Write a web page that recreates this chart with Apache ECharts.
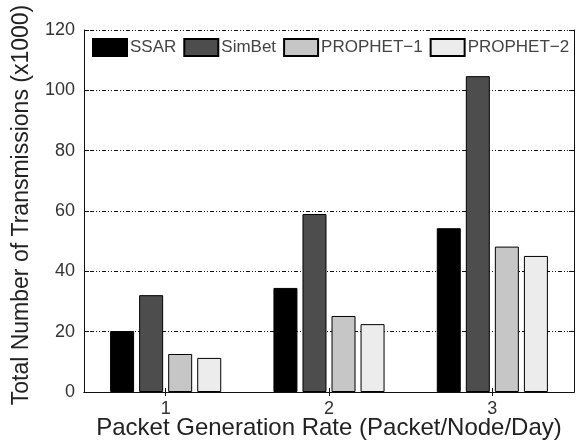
<!DOCTYPE html>
<html>
<head>
<meta charset="utf-8">
<script src="https://cdn.jsdelivr.net/npm/echarts@6/dist/echarts.min.js"></script>
<style>
  html, body { margin: 0; padding: 0; background: #fff; }
  #chart { width: 584px; height: 445px; }
</style>
</head>
<body>
<div id="chart"></div>
<script>
// Packet generation rates on the x axis
const categories = ['1', '2', '3'];

// Total transmissions (in thousands) per routing scheme
const ssar = [20.2, 34.5, 54.3];
const simbet = [32.1, 59.0, 104.7];
const prophet1 = [12.6, 25.2, 48.2];
const prophet2 = [11.3, 22.5, 45.1];

const yTicks = [0, 20, 40, 60, 80, 100, 120];

const FONT = '"Liberation Sans", Arial, Helvetica, sans-serif';
const chart = echarts.init(document.getElementById('chart'), null, { renderer: 'canvas' });

function barSeries(name, data, color) {
  return {
    name: name,
    type: 'bar',
    data: data,
    barWidth: 24,
    barGap: '21%',
    itemStyle: { color: color, borderColor: '#000', borderWidth: 1 },
    emphasis: { disabled: true },
    z: 3
  };
}

const axisLine = { show: true, lineStyle: { color: '#111', width: 1 } };
const tickStyle = { color: '#111', width: 1 };

chart.setOption({
  animation: false,
  backgroundColor: '#fff',
  grid: { left: 84, right: 10, top: 30, bottom: 53, containLabel: false, outerBoundsMode: 'none' },
  legend: {
    left: 92,
    top: 38,
    width: 500,
    padding: 0,
    itemWidth: 34,
    itemHeight: 17,
    itemGap: 7,
    icon: 'rect',
    textStyle: { fontFamily: FONT, fontSize: 17, color: '#444', padding: [0, 0, 0, -2] },
    data: ['SSAR', 'SimBet', 'PROPHET-1', 'PROPHET-2'],
    formatter: function (n) { return n.replace('-', '\u2212'); }
  },
  xAxis: [
    {
      type: 'category',
      data: categories,
      position: 'bottom',
      axisLine: axisLine,
      axisTick: { show: true, inside: true, alignWithLabel: true, length: 4, lineStyle: tickStyle },
      axisLabel: { fontFamily: FONT, fontSize: 18, color: '#333', margin: 8 },
      name: 'Packet Generation Rate (Packet/Node/Day)',
      nameLocation: 'middle',
      nameGap: 24,
      nameMoveOverlap: false,
      nameTextStyle: { fontFamily: FONT, fontSize: 24, color: '#222' }
    },
    {
      type: 'category',
      data: categories,
      position: 'top',
      axisLine: axisLine,
      axisTick: { show: true, inside: true, alignWithLabel: true, length: 4, lineStyle: tickStyle },
      axisLabel: { show: false }
    }
  ],
  yAxis: [
    {
      type: 'value',
      min: 0,
      max: 120,
      interval: 20,
      position: 'left',
      axisLine: axisLine,
      axisTick: { show: true, inside: true, length: 5, lineStyle: tickStyle },
      axisLabel: {
        fontFamily: FONT, fontSize: 18, color: '#333', margin: 9,
        formatter: function (v) { return yTicks.indexOf(v) >= 0 ? String(v) : ''; }
      },
      splitLine: { show: true, lineStyle: { color: '#111', width: 1, type: [1, 2, 1, 2, 4, 2] } },
      name: 'Total Number of Transmissions (x1000)',
      nameLocation: 'middle',
      nameGap: 51,
      nameMoveOverlap: false,
      nameTextStyle: { fontFamily: FONT, fontSize: 23, color: '#222', padding: [0, 0, 0, 12] }
    },
    {
      type: 'value',
      min: 0,
      max: 120,
      interval: 20,
      position: 'right',
      axisLine: axisLine,
      axisTick: { show: true, inside: true, length: 5, lineStyle: tickStyle },
      axisLabel: { show: false },
      splitLine: { show: false }
    }
  ],
  series: [
    barSeries('SSAR', ssar, '#000000'),
    barSeries('SimBet', simbet, '#4d4d4d'),
    barSeries('PROPHET-1', prophet1, '#c6c6c6'),
    barSeries('PROPHET-2', prophet2, '#ececec')
  ]
});
</script>
</body>
</html>
